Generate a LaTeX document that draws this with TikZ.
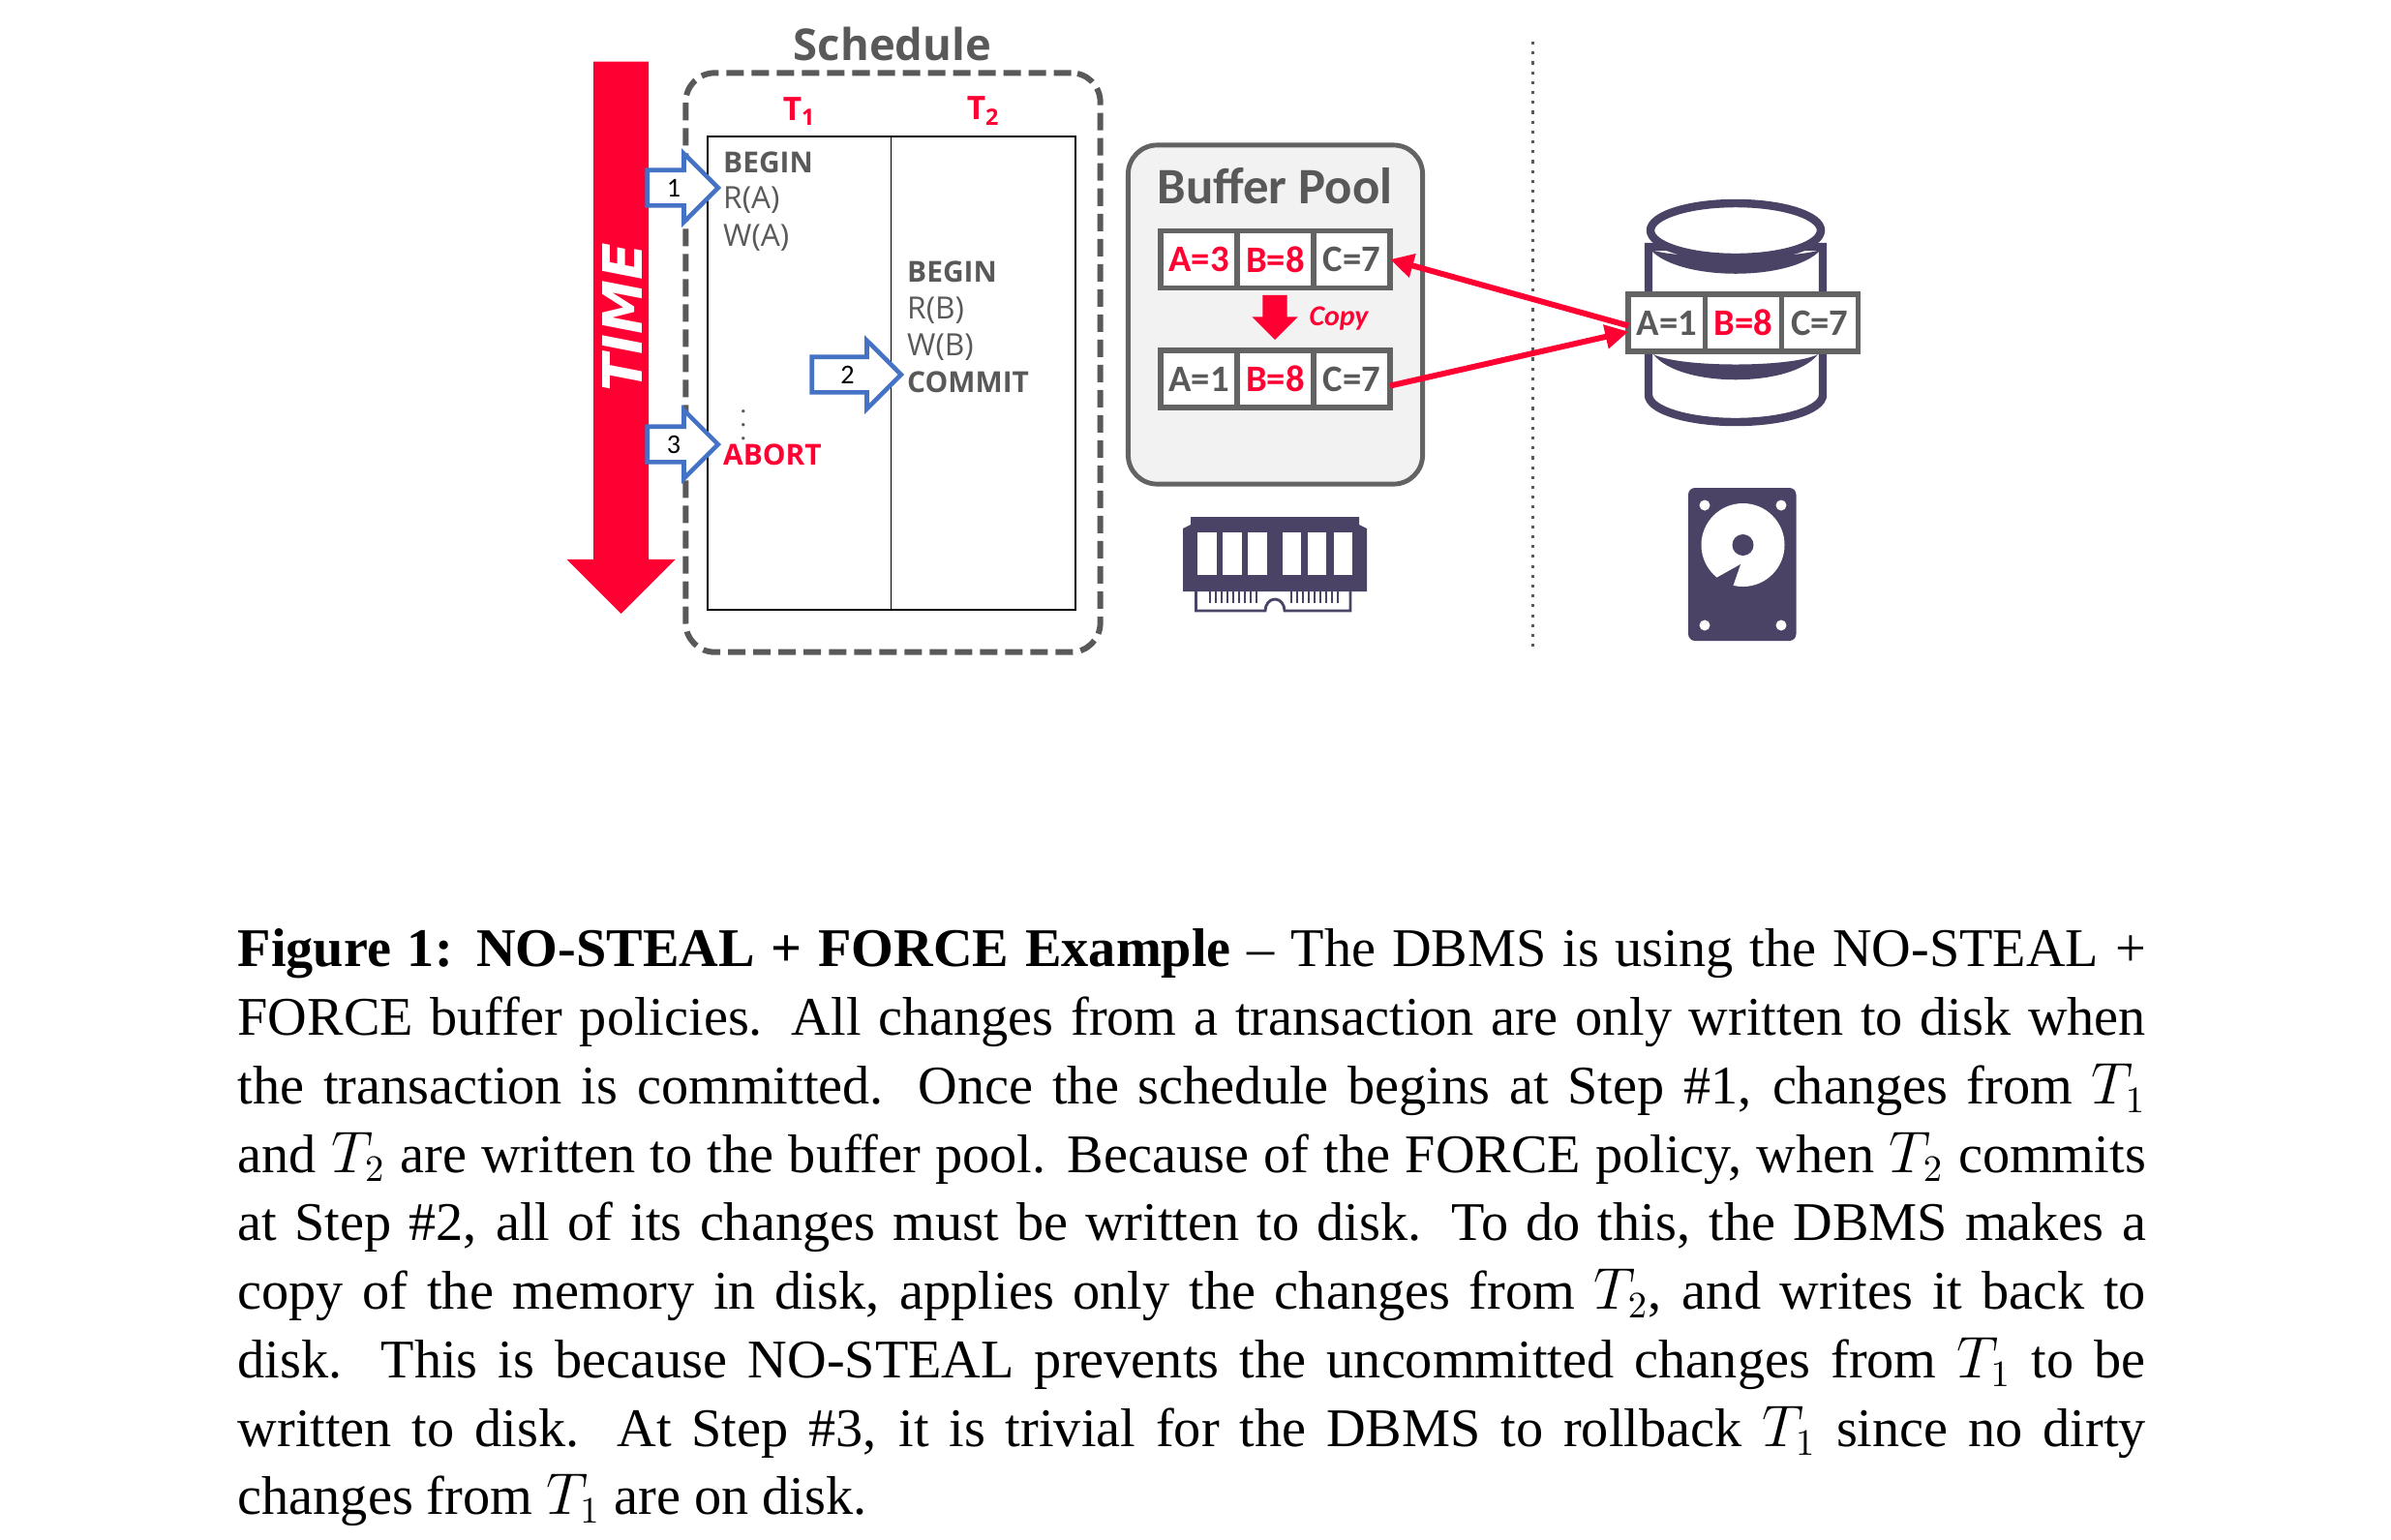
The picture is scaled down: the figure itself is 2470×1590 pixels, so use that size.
\documentclass[tikz,border=0pt]{standalone}
\usepackage{amsmath}
\usepackage{fontspec}
\setmainfont{Liberation Serif}
\newfontfamily\labelfont{Open Sans}
\newfontfamily\cellfont{Carlito}
\newfontfamily\timefont{DejaVu Sans}
\usepackage{tikz}
\usetikzlibrary{arrows.meta, positioning, shapes.arrows}

\definecolor{hotred}{HTML}{FF0033}
\definecolor{textgray}{HTML}{595959}
\definecolor{linegray}{HTML}{636363}
\definecolor{iconpurple}{HTML}{4B4365}
\definecolor{stepblue}{HTML}{4472C4}

\tikzset{
    oplabel/.style={anchor=base west, inner sep=0pt, text=textgray, font=\labelfont\fontsize{9}{10}\selectfont},
    opbold/.style={oplabel, font=\labelfont\bfseries\fontsize{8.5}{10}\selectfont},
    txnlabel/.style={inner sep=0pt, text=hotred, font=\labelfont\bfseries\fontsize{9.5}{10}\selectfont},
    cell/.style={draw=linegray, line width=1.6pt, fill=white, minimum width=0.79cm, minimum height=0.59cm, inner sep=0pt, outer sep=0pt, text=textgray, font=\cellfont\bfseries\fontsize{11}{12}\selectfont},
    redcell/.style={cell, text=hotred},
    steparrow/.style={single arrow, draw=stepblue, line width=1.3pt, fill=white, inner sep=0pt, text height=0.25cm, text depth=0.07cm, minimum width=0.66cm, single arrow head extend=0.17cm, single arrow tip angle=90, anchor=tip, font=\cellfont\fontsize{8}{10}\selectfont},
    bigarrow/.style={single arrow, fill=hotred, inner sep=0pt, shape border rotate=270, single arrow tip angle=90, anchor=tip},
    redlink/.style={draw=hotred, line width=1.7pt, -{Triangle[length=0.24cm, width=0.24cm]}}
}

\begin{document}
\begin{tikzpicture}[x=0.01cm, y=-0.01cm]
    \useasboundingbox (0,0) rectangle (2470,1590);

    % left part: time and schedule
    \node (schedbox) [draw=textgray, line width=1.7pt, dash pattern=on 0.18cm off 0.08cm, rounded corners=0.3cm, minimum width=4.28cm, minimum height=5.98cm] at (922.5,374.5) {};
    \node (schedtitle) [inner sep=0pt, text=textgray, font=\labelfont\bfseries\fontsize{12.9}{14}\selectfont] at (922,45) {Schedule};
    \node (timearrow) [bigarrow, minimum height=5.7cm, minimum width=1.11cm, single arrow head extend=0.2775cm] at (641.6,635) {\rule{0.555cm}{0pt}};
    \node (timetext) [rotate=90, inner sep=0pt, text=white, font=\timefont\bfseries\itshape\fontsize{16}{18}\selectfont] at (643,328) {TIME};

    \node (leftcol) [draw=black, line width=0.5pt, minimum width=1.895cm, minimum height=4.89cm, inner sep=0pt, outer sep=0pt] at (825.75,385.5) {};
    \node (rightcol) [draw=black, line width=0.5pt, minimum width=1.905cm, minimum height=4.89cm, inner sep=0pt, outer sep=0pt, right=0cm of leftcol] {};
    \node (tone) [txnlabel] at (826,115) {T\textsubscript{1}};
    \node (ttwo) [txnlabel] at (1016,115) {T\textsubscript{2}};

    \node (beginone) [opbold] at (746.5,178) {BEGIN};
    \node (readone) [oplabel] at (746.5,215.5) {R(A)};
    \node (writeone) [oplabel] at (746.5,254.5) {W(A)};
    \node (dotsone) [inner sep=0pt, text=textgray, font=\fontsize{8}{8}\selectfont] at (768,429) {$\vdots$};
    \node (abortone) [opbold, text=hotred] at (746.5,480) {ABORT};
    \node (begintwo) [opbold] at (936.5,291.5) {BEGIN};
    \node (readtwo) [oplabel] at (936.5,329) {R(B)};
    \node (writetwo) [oplabel] at (936.5,367) {W(B)};
    \node (committwo) [opbold] at (936.5,405) {COMMIT};

    \node (stepone) [steparrow, minimum height=0.73cm] at (745,194) {1};
    \node (steptwo) [steparrow, minimum height=0.92cm] at (934,387) {2};
    \node (stepthree) [steparrow, minimum height=0.73cm] at (745,459) {3};

    % buffer pool
    \node (poolbox) [draw=linegray, line width=1.4pt, fill=black!5, rounded corners=0.3cm, minimum width=3.04cm, minimum height=3.5cm] at (1317.5,325) {};
    \node (pooltitle) [inner sep=0pt, text=textgray, font=\cellfont\bfseries\fontsize{15}{16}\selectfont] at (1317,192) {Buffer Pool};

    \node (aone) [redcell] at (1238.5,268) {A=3};
    \node (bone) [redcell, right=0cm of aone] {B=8};
    \node (cone) [cell, right=0cm of bone] {C=7};
    \node (atwo) [cell] at (1238.5,391.5) {A=1};
    \node (btwo) [redcell, right=0cm of atwo] {B=8};
    \node (ctwo) [cell, right=0cm of btwo] {C=7};

    \node (copyarrow) [bigarrow, minimum height=0.46cm, minimum width=0.46cm, single arrow head extend=0.11cm] at (1317,352) {\rule{0.24cm}{0pt}};
    \node (copytext) [inner sep=0pt, text=hotred, font=\cellfont\bfseries\itshape\fontsize{8.5}{10}\selectfont] at (1383,329) {Copy};

    % divider
    \coordinate (divtop) at (1583.5,43);
    \coordinate (divbot) at (1583.5,670);
    \draw[textgray, line width=0.9pt, dotted] (divtop) -- (divbot);

    % database icon
    \draw[iconpurple, line width=2.4pt, fill=white] (1703,255) -- (1703,408) arc[x radius=90, y radius=28, start angle=180, end angle=0] -- (1883,255) -- cycle;
    \fill[iconpurple] (1705,258) .. controls (1735,291) and (1851,291) .. (1881,258) .. controls (1851,268) and (1735,268) .. (1705,258);
    \fill[iconpurple] (1708,366) .. controls (1735,401) and (1851,401) .. (1878,366) .. controls (1851,380) and (1735,380) .. (1708,366);
    \draw[iconpurple, line width=2.4pt, fill=white] (1793,238) ellipse[x radius=88, y radius=28];

    \node (adisk) [cell] at (1721.8,333.5) {A=1};
    \node (bdisk) [redcell, right=0cm of adisk] {B=8};
    \node (cdisk) [cell, right=0cm of bdisk] {C=7};

    \draw[redlink] ([yshift=-0.03cm]adisk.west) -- (cone.east);
    \draw[redlink] ([yshift=-0.07cm]ctwo.east) -- ([yshift=-0.09cm]adisk.west);

    % memory icon
    \fill[iconpurple] (1230,534) -- (1404,534) -- (1404,542) -- (1412,546) -- (1412,611) -- (1222,611) -- (1222,546) -- (1230,542) -- cycle;
    \foreach \slotx in {1237,1263,1289,1324.5,1350.5,1377.5}
        \fill[white] (\slotx,549.5) rectangle ++(19.5,44);
    \draw[iconpurple, line width=0.8pt] (1235.5,611) -- (1235.5,631) -- (1307,631) arc[x radius=10, y radius=12, start angle=180, end angle=360] -- (1395,631) -- (1395,611);
    \foreach \pinx in {1250,1256,1262,1268,1274,1280,1286,1292,1298,1334,1340,1346,1352,1358,1364,1370,1376,1382}
        \draw[iconpurple, line width=0.5pt] (\pinx,611) -- (\pinx,623);

    % disk icon
    \fill[iconpurple, rounded corners=0.07cm] (1744,504) rectangle (1855.5,662);
    \foreach \holex in {1761,1840}
        \foreach \holey in {522,646}
            \fill[white] (\holex,\holey) circle[radius=5.5];
    \fill[white] (1800.5,563) circle[radius=43];
    \fill[iconpurple] (1800.5,563) circle[radius=11];
    \fill[iconpurple] (1798,583) -- (1773,597) -- (1778,612) -- (1790,606) -- cycle;

    % caption
    \node (caption) [anchor=north west, inner sep=0pt, text width=19.7cm, align=justify, font=\fontsize{16}{20.12}\selectfont] at (245,959) {\textbf{Figure 1: NO-STEAL + FORCE Example} -- The DBMS is using the NO-STEAL +\linebreak
    FORCE buffer policies. All changes from a transaction are only written to disk when\linebreak
    the transaction is committed. Once the schedule begins at Step \#1, changes from $T_1$\linebreak
    and $T_2$ are written to the buffer pool. Because of the FORCE policy, when $T_2$ commits\linebreak
    at Step \#2, all of its changes must be written to disk. To do this, the DBMS makes a\linebreak
    copy of the memory in disk, applies only the changes from $T_2$, and writes it back to\linebreak
    disk. This is because NO-STEAL prevents the uncommitted changes from $T_1$ to be\linebreak
    written to disk. At Step \#3, it is trivial for the DBMS to rollback $T_1$ since no dirty\linebreak
    changes from $T_1$ are on disk.};
\end{tikzpicture}
\end{document}
